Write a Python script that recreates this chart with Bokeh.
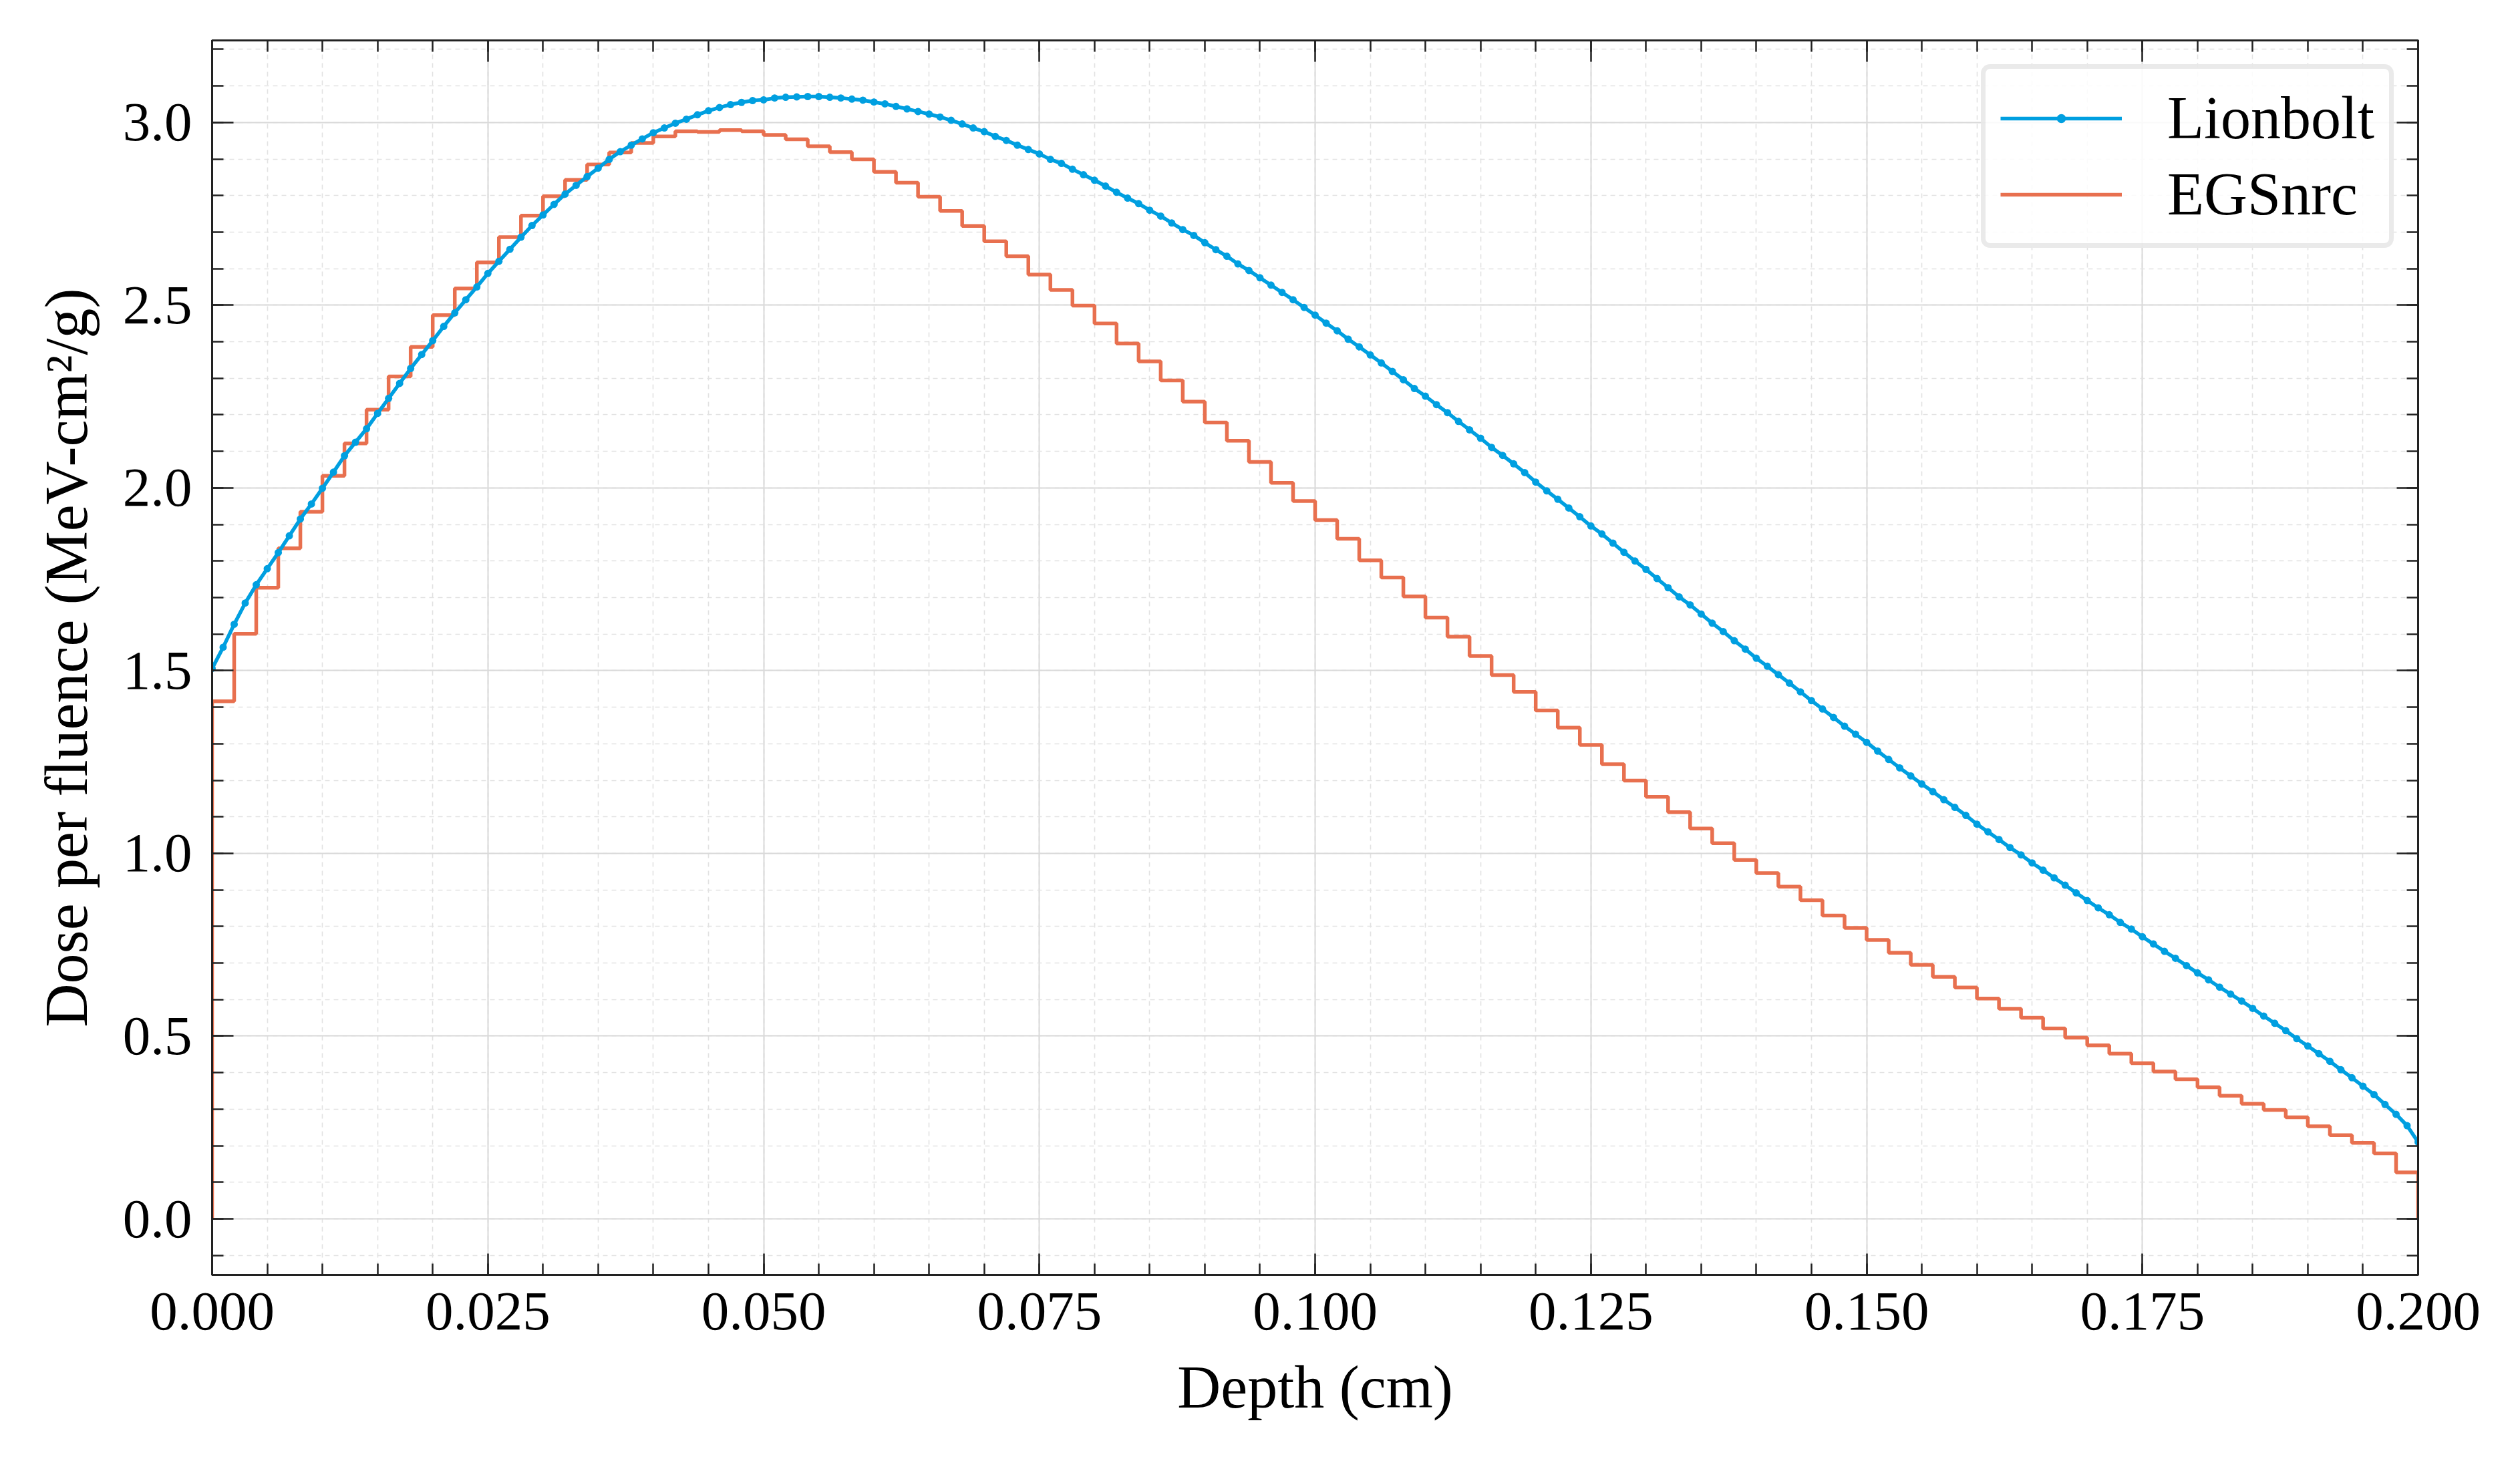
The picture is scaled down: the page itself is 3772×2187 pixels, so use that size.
import numpy as np
from bokeh.plotting import figure
from bokeh.models import (SingleIntervalTicker, LinearAxis, NumeralTickFormatter,
                          CustomJSTickFormatter, Legend, LegendItem)
from bokeh.embed import file_html
from bokeh.resources import INLINE

# ---------------- data ----------------
lionbolt_depth_step = 0.001
lionbolt_dose = [
    1.506, 1.564, 1.627, 1.685, 1.735, 1.779, 1.823, 1.869, 1.915, 1.956,
    1.999, 2.043, 2.088, 2.125, 2.162, 2.204, 2.245, 2.286, 2.327, 2.365,
    2.403, 2.442, 2.479, 2.515, 2.550, 2.587, 2.620, 2.653, 2.686, 2.718,
    2.747, 2.776, 2.804, 2.828, 2.852, 2.875, 2.899, 2.920, 2.938, 2.955,
    2.972, 2.985, 2.998, 3.009, 3.021, 3.032, 3.041, 3.049, 3.055, 3.060,
    3.062, 3.067, 3.069, 3.070, 3.071, 3.071, 3.069, 3.067, 3.064, 3.061,
    3.056, 3.051, 3.044, 3.037, 3.030, 3.023, 3.015, 3.006, 2.996, 2.985,
    2.975, 2.962, 2.951, 2.938, 2.926, 2.914, 2.899, 2.888, 2.872, 2.857,
    2.842, 2.826, 2.809, 2.793, 2.778, 2.760, 2.744, 2.725, 2.707, 2.691,
    2.671, 2.652, 2.634, 2.613, 2.595, 2.575, 2.555, 2.535, 2.515, 2.494,
    2.473, 2.451, 2.430, 2.407, 2.386, 2.364, 2.342, 2.319, 2.296, 2.272,
    2.251, 2.228, 2.206, 2.182, 2.159, 2.136, 2.111, 2.089, 2.066, 2.042,
    2.016, 1.992, 1.969, 1.945, 1.921, 1.896, 1.874, 1.849, 1.824, 1.800,
    1.777, 1.752, 1.727, 1.702, 1.680, 1.655, 1.630, 1.607, 1.582, 1.559,
    1.534, 1.512, 1.489, 1.466, 1.442, 1.418, 1.395, 1.372, 1.348, 1.326,
    1.304, 1.280, 1.257, 1.234, 1.212, 1.190, 1.169, 1.147, 1.126, 1.104,
    1.080, 1.059, 1.038, 1.016, 0.996, 0.974, 0.954, 0.933, 0.913, 0.892,
    0.871, 0.851, 0.832, 0.811, 0.793, 0.772, 0.752, 0.732, 0.713, 0.693,
    0.673, 0.654, 0.634, 0.615, 0.596, 0.576, 0.555, 0.535, 0.515, 0.493,
    0.473, 0.452, 0.431, 0.408, 0.386, 0.363, 0.340, 0.313, 0.286, 0.255,
    0.210,
]
lionbolt_depth = [round(i * lionbolt_depth_step, 3) for i in range(len(lionbolt_dose))]

egs_bin_width = 0.002
egs_dose = [
    1.416, 1.601, 1.727, 1.835, 1.935, 2.033, 2.122, 2.214, 2.305, 2.386,
    2.473, 2.546, 2.617, 2.686, 2.745, 2.798, 2.843, 2.885, 2.918, 2.944,
    2.962, 2.976, 2.974, 2.979, 2.976, 2.966, 2.954, 2.935, 2.919, 2.899,
    2.865, 2.835, 2.797, 2.758, 2.717, 2.675, 2.634, 2.584, 2.542, 2.499,
    2.450, 2.395, 2.346, 2.294, 2.236, 2.179, 2.129, 2.071, 2.014, 1.964,
    1.912, 1.861, 1.802, 1.755, 1.703, 1.645, 1.593, 1.540, 1.488, 1.442,
    1.391, 1.344, 1.297, 1.244, 1.199, 1.155, 1.113, 1.068, 1.028, 0.982,
    0.946, 0.909, 0.872, 0.830, 0.796, 0.763, 0.728, 0.695, 0.662, 0.633,
    0.603, 0.575, 0.550, 0.521, 0.496, 0.475, 0.452, 0.426, 0.403, 0.382,
    0.360, 0.337, 0.315, 0.298, 0.278, 0.253, 0.229, 0.208, 0.179, 0.127,
]
egs_edges = [round(i * egs_bin_width, 3) for i in range(len(egs_dose) + 1)]

x_label = "Depth (cm)"
y_label = "Dose per fluence (MeV-cm\u00b2/g)"
series_names = ["Lionbolt", "EGSnrc"]

# ---------------- styling ----------------
BLUE = "#009fe0"
ORANGE = "#e8704f"
FONT = "Liberation Serif"
FS = "83px"
FS_LABEL = "90px"
AX = "#222222"

ymax = max(max(lionbolt_dose), max(egs_dose))
ymin = 0.0
pad = 0.05 * (ymax - ymin)

p = figure(width=3756, height=2171, x_range=(0.0, 0.2),
           y_range=(ymin - pad, ymax + pad),
           output_backend="svg", toolbar_location=None,
           min_border_left=317, min_border_right=137,
           min_border_top=60, min_border_bottom=263,
           x_axis_label=x_label, y_axis_label=y_label)
p.background_fill_color = "white"
p.border_fill_color = "white"
p.outline_line_color = AX
p.outline_line_width = 3

xt = SingleIntervalTicker(interval=0.025, num_minor_ticks=5)
yt = SingleIntervalTicker(interval=0.5, num_minor_ticks=5)

def style_axis(ax, ticker, labels=True, fmt="0.0"):
    ax.ticker = ticker
    ax.axis_line_color = AX
    ax.axis_line_width = 3
    ax.major_tick_line_color = AX
    ax.minor_tick_line_color = AX
    ax.major_tick_line_width = 2.5
    ax.minor_tick_line_width = 2.5
    ax.major_tick_in = 32
    ax.major_tick_out = 0
    ax.minor_tick_in = 17
    ax.minor_tick_out = 0
    ax.major_label_text_font = FONT
    ax.major_label_text_font_size = FS
    ax.major_label_text_color = "black"
    ax.axis_label_text_font = FONT
    ax.axis_label_text_font_size = FS_LABEL
    ax.axis_label_text_font_style = "normal"
    ax.axis_label_text_color = "black"
    if labels:
        ax.formatter = NumeralTickFormatter(format=fmt)
    else:
        ax.formatter = CustomJSTickFormatter(code="return ''")
        ax.major_label_standoff = 0

style_axis(p.xaxis[0], xt, True, "0.000")
style_axis(p.yaxis[0], yt, True, "0.0")
p.xaxis[0].major_label_standoff = 27
p.xaxis[0].axis_label_standoff = 34
p.yaxis[0].major_label_standoff = 30
p.yaxis[0].axis_label_standoff = 32

top_ax = LinearAxis()
right_ax = LinearAxis()
style_axis(top_ax, SingleIntervalTicker(interval=0.025, num_minor_ticks=5), False)
style_axis(right_ax, SingleIntervalTicker(interval=0.5, num_minor_ticks=5), False)
p.add_layout(top_ax, "above")
p.add_layout(right_ax, "right")

for g, tk in ((p.xgrid[0], xt), (p.ygrid[0], yt)):
    g.ticker = tk
    g.grid_line_color = "#d9d9d9"
    g.grid_line_width = 2
    g.minor_grid_line_color = "#e2e2e2"
    g.minor_grid_line_width = 1.6
    g.minor_grid_line_dash = "7 6"

# EGSnrc step histogram (closed to zero at both ends)
edges = np.array(egs_edges)
vals = np.array(egs_dose)
sx = np.concatenate([[edges[0]], edges])
sy = np.concatenate([[0.0], vals, [0.0]])
r_egs = p.step(sx, sy, mode="after", line_color=ORANGE, line_width=5.5)

# Lionbolt line with dots
r_lb_line = p.line(lionbolt_depth, lionbolt_dose, line_color=BLUE, line_width=5.5)
r_lb_dots = p.scatter(lionbolt_depth, lionbolt_dose, marker="circle", size=11,
                      fill_color=BLUE, line_color=BLUE, line_width=0)

legend = Legend(items=[
    LegendItem(label=series_names[0], renderers=[r_lb_line, r_lb_dots]),
    LegendItem(label=series_names[1], renderers=[r_egs]),
], location="top_right")
legend.margin = 36
legend.padding = 22
legend.spacing = 11
legend.glyph_width = 182
legend.glyph_height = 34
legend.label_height = 80
legend.label_standoff = 68
legend.label_text_font = FONT
legend.label_text_font_size = FS_LABEL
legend.label_text_color = "black"
legend.border_line_color = "#d5d5d5"
legend.border_line_width = 7
legend.background_fill_color = "white"
legend.background_fill_alpha = 0.85
if "border_radius" in Legend.properties():
    legend.border_radius = 14
p.add_layout(legend, "center")

open("out.html", "w").write(file_html(p, INLINE))
